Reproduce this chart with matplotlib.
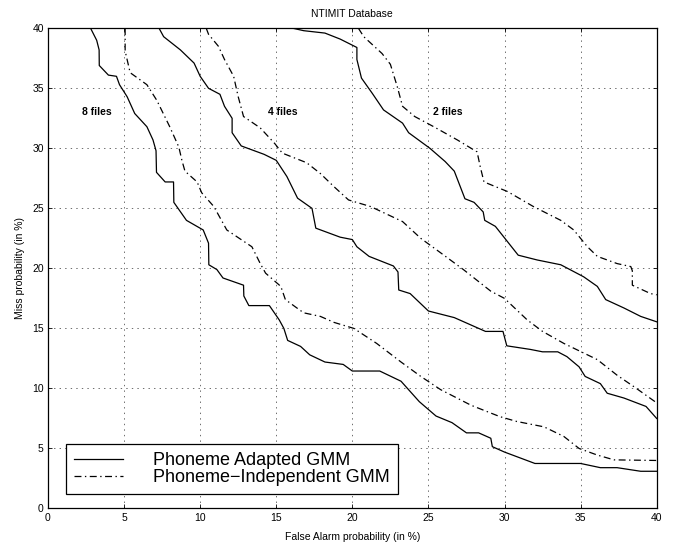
import matplotlib
matplotlib.use('Agg')
import matplotlib.pyplot as plt

plt.rcParams['font.family'] = ['Liberation Sans', 'DejaVu Sans']
plt.rcParams['lines.scale_dashes'] = False

# 8 files
fa_8_adapt = [2.8, 3.2, 3.36, 3.37, 3.97, 4.5, 4.7, 5.2, 5.7, 6.5, 6.9, 7.1, 7.13, 7.7, 8.25, 8.27,
              9.1, 10.2, 10.55, 10.57, 11.1, 11.5, 12.85, 12.87, 13.2, 14.55, 15.2, 15.5, 15.75,
              16.6, 17.2, 18.2, 19.4, 20.0, 21.8, 23.2, 24.4, 25.5, 26.55, 27.5, 28.3, 29.1, 29.2,
              30.0, 32.0, 35.0, 36.3, 37.4, 38.95, 40.0]
miss_8_adapt = [40.0, 39.0, 38.2, 36.9, 36.1, 36.0, 35.3, 34.3, 32.9, 31.8, 30.7, 29.8, 28.0, 27.2,
                27.2, 25.5, 24.0, 23.2, 22.1, 20.3, 19.9, 19.2, 18.6, 17.7, 16.9, 16.9, 15.7, 15.0,
                14.0, 13.5, 12.8, 12.2, 12.0, 11.45, 11.45, 10.6, 8.9, 7.7, 7.15, 6.3, 6.3, 5.85,
                5.15, 4.7, 3.75, 3.75, 3.4, 3.4, 3.1, 3.1]
fa_8_indep = [5.07, 5.07, 5.4, 6.5, 7.15, 8.0, 8.6, 8.8, 9.0, 9.8, 10.1, 10.9, 11.75, 13.4, 13.95,
              14.3, 15.3, 15.6, 16.25, 16.8, 17.9, 18.8, 20.1, 21.6, 23.2, 24.5, 25.8, 27.8, 29.7,
              30.8, 32.6, 33.9, 34.9, 36.1, 37.2, 40.0]
miss_8_indep = [40.0, 38.1, 36.3, 35.3, 34.0, 31.8, 30.1, 29.0, 28.1, 27.2, 26.3, 25.15, 23.2, 21.8,
                20.4, 19.6, 18.5, 17.4, 16.8, 16.3, 16.0, 15.5, 15.0, 13.75, 12.2, 11.0, 9.9, 8.6,
                7.65, 7.25, 6.8, 6.0, 5.0, 4.45, 4.05, 4.0]

# 4 files
fa_4_adapt = [7.3, 7.6, 8.7, 9.6, 10.0, 10.55, 11.3, 11.6, 12.1, 12.1, 12.7, 14.2, 15.0, 15.7, 16.4,
              17.35, 17.6, 19.2, 20.0, 20.3, 21.1, 22.7, 23.0, 23.05, 23.8, 25.0, 26.7, 28.75, 29.9,
              30.15, 31.7, 32.5, 33.5, 34.1, 34.9, 35.3, 36.3, 36.75, 37.85, 39.3, 40.0]
miss_4_adapt = [40.0, 39.3, 38.2, 37.1, 36.0, 35.0, 34.5, 33.5, 32.5, 31.3, 30.2, 29.5, 29.0, 27.65,
                25.85, 25.0, 23.35, 22.6, 22.4, 21.8, 21.0, 20.2, 19.7, 18.2, 17.9, 16.45, 15.9,
                14.75, 14.75, 13.55, 13.25, 13.05, 13.05, 12.65, 11.8, 11.0, 10.4, 9.6, 9.2, 8.5, 7.5]
fa_4_indep = [10.4, 10.55, 11.2, 11.6, 12.2, 12.5, 12.85, 13.95, 14.9, 15.4, 17.0, 17.9, 18.8, 19.75,
              21.2, 23.3, 24.5, 25.8, 27.3, 29.1, 30.0, 31.5, 32.5, 33.9, 36.1, 37.4, 38.5, 40.0]
miss_4_indep = [40.0, 39.5, 38.5, 37.4, 36.0, 34.3, 32.65, 31.7, 30.4, 29.6, 28.8, 27.9, 26.8, 25.7,
                25.15, 23.9, 22.5, 21.3, 19.9, 18.1, 17.5, 15.7, 14.75, 13.75, 12.4, 11.1, 10.15, 8.8]

# 2 files
fa_2_adapt = [16.1, 16.8, 18.2, 19.2, 20.3, 20.3, 20.6, 21.3, 22.05, 23.3, 23.7, 25.1, 26.1, 26.7,
              27.4, 28.0, 28.6, 28.7, 29.4, 30.9, 32.15, 33.7, 35.2, 36.1, 36.65, 37.85, 38.95, 40.0]
miss_2_adapt = [40.0, 39.8, 39.6, 39.1, 38.4, 37.4, 35.85, 34.6, 33.2, 32.1, 31.3, 30.0, 28.9, 28.1,
                25.8, 25.5, 24.7, 24.0, 23.5, 21.1, 20.7, 20.3, 19.3, 18.5, 17.4, 16.7, 16.0, 15.55]
fa_2_indep = [20.4, 20.75, 21.95, 22.5, 22.95, 23.3, 24.1, 25.35, 26.9, 28.2, 28.4, 28.65, 30.2, 31.9,
              33.7, 34.55, 35.45, 36.1, 37.4, 38.3, 38.4, 38.4, 39.6, 40.0]
miss_2_indep = [40.0, 39.3, 37.9, 37.0, 35.15, 33.5, 32.65, 31.8, 30.7, 29.7, 28.5, 27.2, 26.4, 25.15,
                24.0, 23.2, 21.8, 21.0, 20.4, 20.15, 19.8, 18.6, 17.9, 17.8]

labels = ['8 files', '4 files', '2 files']
label_x = [3.2, 15.4, 26.3]
label_y = [33.0, 33.0, 33.0]

fig = plt.figure(figsize=(6.74, 5.48), dpi=100)
ax = fig.add_axes([0.0712, 0.0721, 0.9031, 0.8763])

lw = 0.9
dashdot = (5, 2.5, 1, 2.5)
ax.plot(fa_8_adapt, miss_8_adapt, color='black', lw=lw, label='Phoneme Adapted GMM')
ax.plot(fa_8_indep, miss_8_indep, color='black', lw=lw, dashes=dashdot, label='Phoneme\u2212Independent GMM')
ax.plot(fa_4_adapt, miss_4_adapt, color='black', lw=lw)
ax.plot(fa_4_indep, miss_4_indep, color='black', lw=lw, dashes=dashdot)
ax.plot(fa_2_adapt, miss_2_adapt, color='black', lw=lw)
ax.plot(fa_2_indep, miss_2_indep, color='black', lw=lw, dashes=dashdot)

for t, x, y in zip(labels, label_x, label_y):
    ax.text(x, y, t, fontsize=7.5, fontweight='bold', ha='center', va='center')

ax.set_xlim(0, 40)
ax.set_ylim(0, 40)
ax.set_xticks(range(0, 41, 5))
ax.set_yticks(range(0, 41, 5))
ax.tick_params(direction='in', top=True, right=True, labelsize=7.5, length=3, width=0.6, pad=3)
ax.grid(True, linestyle=(0, (1, 3)), color='#555555', linewidth=0.6)
for s in ax.spines.values():
    s.set_linewidth(0.9)

ax.set_title('NTIMIT Database', fontsize=7.5, pad=8)
ax.set_xlabel('False Alarm probability (in %)', fontsize=7.5, labelpad=7)
ax.set_ylabel('Miss probability (in %)', fontsize=7.5, labelpad=5)

leg = ax.legend(loc='lower left', bbox_to_anchor=(0.029, 0.03), fontsize=13, frameon=True,
                fancybox=False, edgecolor='black', framealpha=1, handlelength=2.7,
                handletextpad=1.7, labelspacing=0.0, borderpad=0.45, borderaxespad=0)
leg.get_frame().set_linewidth(0.9)

fig.savefig('out.png', dpi=100)
